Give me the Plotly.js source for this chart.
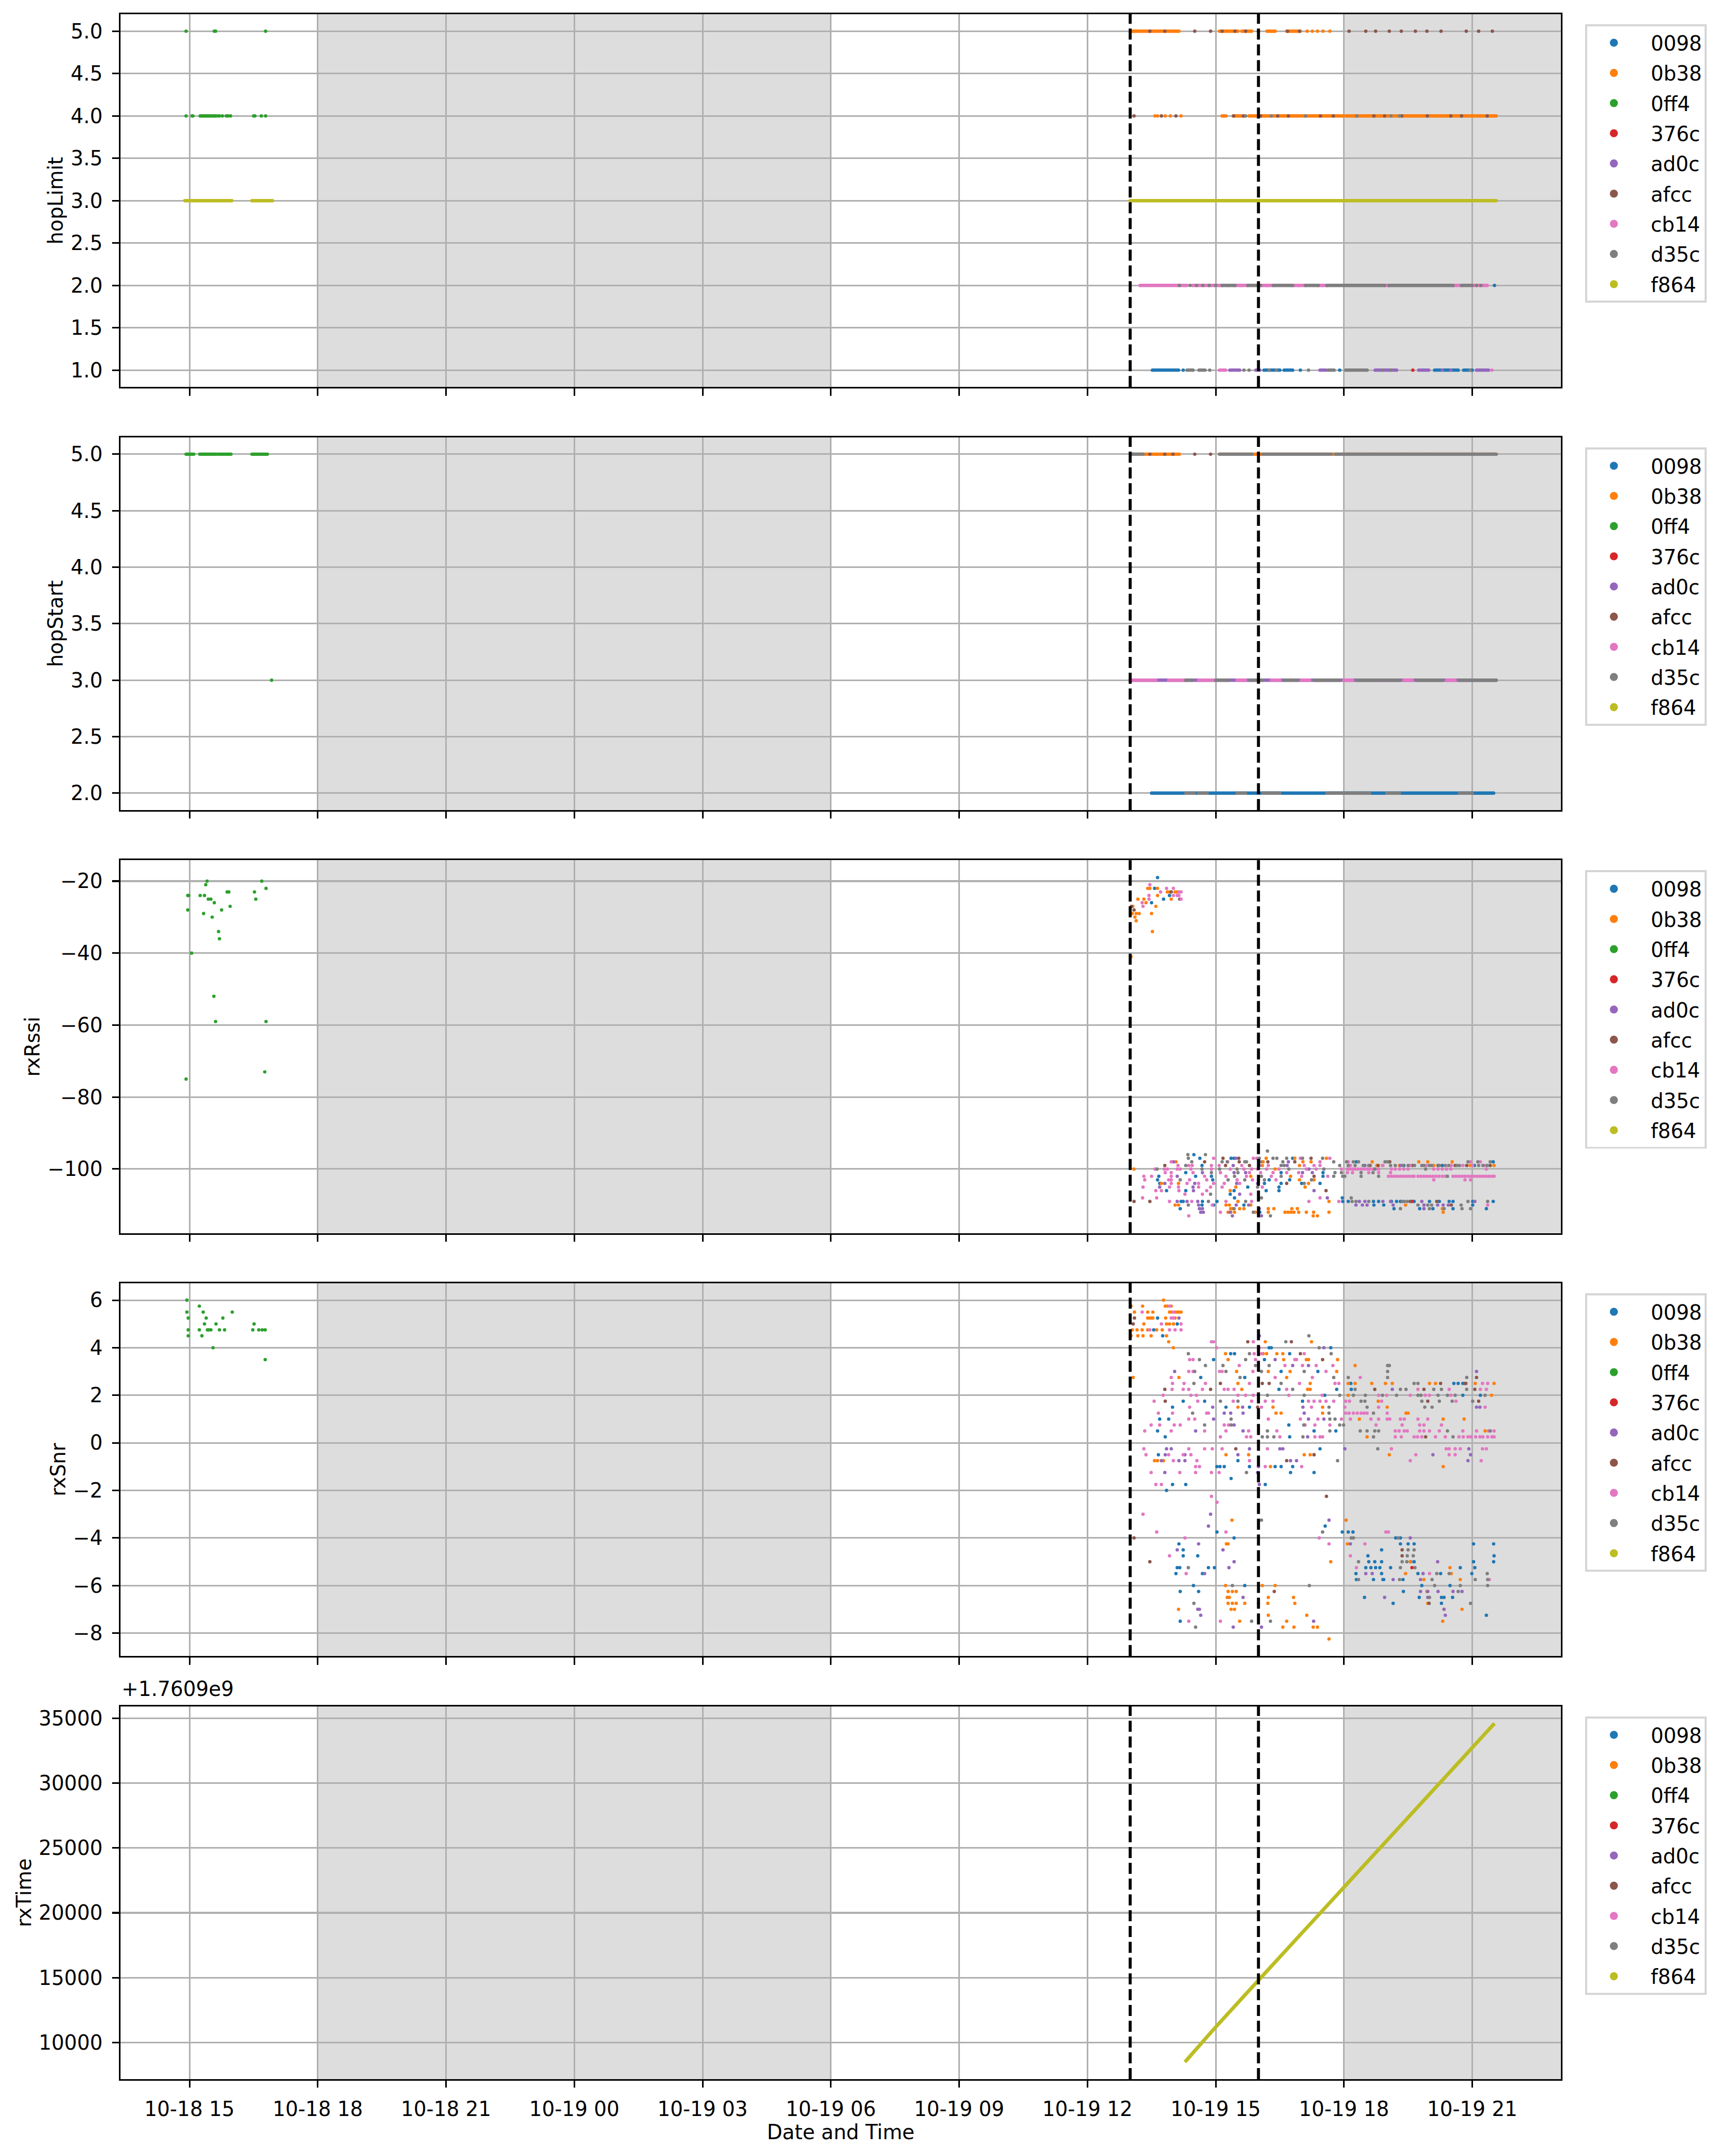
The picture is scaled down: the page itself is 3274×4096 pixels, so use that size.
<!DOCTYPE html>
<html><head><meta charset="utf-8">
<script src="https://cdn.plot.ly/plotly-3.0.1.min.js"></script>
<style>html,body{margin:0;padding:0;background:#fff}#chart{width:3274px;height:4096px}</style>
</head><body><div id="chart"></div>
<script>
// ---------------- DATA ----------------
const devices = ['0098','0b38','0ff4','376c','ad0c','afcc','cb14','d35c','f864'];
const panelFields = ['hopLimit','hopStart','rxRssi','rxSnr','rxTime'];
const xTitle = 'Date and Time';
const nightStarts = ['2025-10-18 18:00','2025-10-19 18:00'];
const nightEnds   = ['2025-10-19 06:00','2025-10-20 06:00'];
const markerTimes = ['2025-10-19 13:00','2025-10-19 16:00'];
const rxTimeOffset = 1.7609e9;
// times: hours since 2025-10-18 00:00 ; device index into `devices`
// runs: [tStart, tEnd, value, device] (dense stretches of points)
const hopLimitRuns = [
 14.89,15.99,3,8, 16.46,16.94,3,8, 15.25,15.40,4,2, 15.43,15.61,4,2,
 37.04,38.14,5,1, 39.09,39.52,5,1, 39.61,39.84,5,1, 40.20,40.39,5,1, 40.66,40.98,5,1,
 39.15,39.24,4,1, 39.41,39.68,4,1, 39.78,41.98,4,1, 42.04,45.56,4,1,
 37.00,45.56,3,8,
 37.23,38.33,2,6, 38.45,39.15,2,6, 39.45,39.75,2,6, 40.05,40.35,2,6, 40.80,41.10,2,6, 41.40,41.60,2,6, 42.95,43.05,2,6, 44.55,44.75,2,6, 45.00,45.35,2,6,
 39.15,39.45,2,7, 39.75,40.05,2,7, 40.35,40.80,2,7, 41.10,41.40,2,7, 41.60,42.95,2,7, 43.05,44.55,2,7, 44.75,45.00,2,7,
 37.52,38.13,1,0, 38.33,38.47,1,7, 38.61,38.75,1,7, 39.09,39.23,1,6, 39.33,39.56,1,4, 39.94,40.03,1,4, 40.13,40.50,1,0, 40.60,40.80,1,0,
 41.44,41.58,1,4, 41.63,41.77,1,7, 42.04,42.54,1,7, 42.73,43.23,1,4, 43.75,43.98,1,4, 44.12,44.67,1,0, 44.80,45.00,1,0, 45.10,45.38,1,4
];
// points: [t, value, device]
const hopLimitPts = [
 14.92,5,2, 15.58,5,2, 15.61,5,2, 16.78,5,2,
 14.92,4,2, 15.06,4,2, 15.08,4,2, 15.66,4,2, 15.70,4,2, 15.77,4,2, 15.86,4,2, 15.90,4,2, 15.96,4,2, 16.50,4,2, 16.53,4,2, 16.68,4,2, 16.78,4,2,
 37.46,5,5, 37.81,5,5, 38.51,5,5, 38.88,5,5, 39.15,5,5, 39.45,5,5, 39.70,5,5, 40.00,5,5, 40.68,5,5, 40.96,5,5,
 42.12,5,5, 42.51,5,5, 42.74,5,5, 43.06,5,5, 43.34,5,5, 43.67,5,5, 43.94,5,5, 44.27,5,5, 44.86,5,5, 45.15,5,5, 45.47,5,5,
 41.14,5,1, 41.26,5,1, 41.38,5,1, 41.51,5,1, 41.67,5,1,
 37.09,4,5, 37.73,4,5, 38.07,4,5, 39.42,4,5, 39.65,4,5, 40.05,4,5, 40.45,4,5, 40.70,4,5, 41.45,4,5, 41.75,4,5,
 42.70,4,5, 42.95,4,5, 43.35,4,5, 43.95,4,5, 44.50,4,5, 44.75,4,5, 45.35,4,5,
 37.58,4,1, 37.64,4,1, 37.82,4,1, 37.94,4,1, 38.19,4,1,
 39.70,4,7, 40.30,4,7, 41.10,4,7, 42.30,4,7, 43.10,4,7, 43.30,4,7,
 38.15,2,7, 38.40,2,7, 38.55,2,7, 38.70,2,7, 38.85,2,7, 39.00,2,7, 45.10,2,7, 45.20,2,7, 45.52,2,0,
 39.30,2,4, 39.60,2,4, 40.20,2,4, 40.95,2,4, 41.50,2,4,
 38.24,1,0, 40.98,1,0, 41.90,1,0, 38.86,1,7, 39.66,1,7, 39.78,1,7, 40.00,1,7, 40.25,1,7, 40.42,1,7, 41.17,1,7,
 42.90,1,7, 43.10,1,7, 44.95,1,7, 43.61,1,3, 45.46,1,6, 44.30,1,4, 44.50,1,4
];
const hopStartRuns = [
 14.92,15.10,5,2, 15.24,15.62,5,2, 15.66,15.97,5,2, 16.46,16.82,5,2,
 37.04,38.15,5,1, 39.09,45.56,5,1,
 37.02,37.30,5,7, 39.09,39.85,5,7, 40.10,41.70,5,7, 41.80,45.56,5,7,
 37.00,45.56,3,4,
 37.00,37.60,3,6, 37.90,38.30,3,6, 38.60,39.00,3,6, 39.50,39.70,3,6, 40.30,40.50,3,6, 41.00,41.20,3,6, 42.00,42.20,3,6, 43.40,43.60,3,6, 44.40,44.60,3,6,
 38.30,38.45,3,7, 39.00,39.30,3,7, 39.80,40.10,3,7, 40.60,40.90,3,7, 41.30,41.90,3,7, 42.30,43.30,3,7, 43.70,44.30,3,7, 44.70,45.56,3,7,
 37.50,45.50,2,0,
 38.30,38.50,2,7, 38.60,38.80,2,7, 39.50,39.70,2,7, 40.10,40.50,2,7, 41.60,42.60,2,7, 43.00,43.30,2,7, 44.70,45.00,2,7
];
const hopStartPts = [
 16.92,3,2,
 37.20,5,5, 37.46,5,5, 37.81,5,5, 38.00,5,5, 38.51,5,5, 38.88,5,5, 39.45,5,5, 40.00,5,5, 40.68,5,5,
 42.12,5,5, 42.74,5,5, 43.34,5,5, 43.94,5,5, 44.86,5,5, 45.47,5,5,
 42.90,3,6, 43.00,3,6, 44.85,3,6, 44.92,3,6
];
const rxRssiPts = [
 // 0ff4, 10-18 afternoon
 14.92,-75,2, 14.96,-28,2, 14.96,-24,2, 14.98,-24,2, 15.05,-40,2, 15.25,-24,2, 15.33,-29,2, 15.35,-24,2, 15.38,-21,2, 15.41,-20,2,
 15.44,-25,2, 15.50,-25,2, 15.53,-30,2, 15.57,-52,2, 15.58,-26,2, 15.61,-59,2, 15.68,-34,2, 15.70,-36,2, 15.75,-28,2,
 15.88,-23,2, 15.92,-23,2, 15.95,-27,2, 16.52,-23,2, 16.55,-25,2, 16.69,-20,2, 16.76,-73,2, 16.79,-22,2, 16.79,-59,2,
 // 10-19 strong cluster
 37.64,-19,0, 37.46,-21,6, 37.41,-22,1, 37.46,-22,1, 37.57,-22,0, 37.64,-22,1, 37.71,-23,6, 37.85,-22,6, 38.01,-22,6,
 37.87,-23,1, 37.92,-23,1, 38.10,-23,1, 38.14,-23,6, 38.19,-23,6, 37.96,-23,5, 38.05,-23,1, 37.92,-24,0, 37.78,-25,0,
 37.96,-25,1, 37.64,-24,1, 38.14,-24,6, 38.19,-25,6, 38.10,-24,6, 38.01,-24,6, 38.16,-25,5, 37.18,-25,1, 37.32,-25,1,
 37.44,-24,6, 37.44,-25,6, 37.28,-26,6, 37.30,-27,6, 37.50,-26,0, 37.37,-26,1, 37.60,-27,1, 37.50,-29,1, 37.21,-29,1,
 37.14,-29,1, 37.05,-29,1, 37.06,-27,1, 37.14,-31,1, 37.52,-34,1, 37.02,-41,1, 37.09,-28,5, 37.03,-27,5, 37.11,-30,1,
 // weak cluster
 38.35,-96,7, 38.49,-96,0, 38.76,-96,7, 40.21,-95,7,
 38.36,-97,7, 38.63,-97,0, 38.95,-97,6, 39.17,-97,5, 39.36,-97,0, 39.43,-97,0, 39.47,-97,4, 39.54,-97,5, 39.88,-97,6, 39.96,-97,6,
 40.02,-97,7, 40.18,-97,1, 40.34,-97,7, 40.43,-97,7, 40.66,-97,7, 40.80,-97,0, 40.85,-97,1, 40.98,-97,6, 41.03,-97,7, 41.23,-97,5,
 41.50,-97,7, 41.59,-97,1, 41.67,-97,6,
 37.96,-98,6, 38.01,-98,4, 38.07,-98,1, 38.44,-98,7, 38.74,-98,5, 39.15,-98,7, 39.27,-98,7, 39.28,-98,6, 39.55,-98,5, 39.68,-98,7,
 39.72,-98,7, 40.05,-98,7, 40.11,-98,1, 40.22,-98,5, 40.57,-98,7, 40.70,-98,4, 40.85,-98,5, 41.04,-98,1, 41.23,-98,1, 41.44,-98,6,
 41.76,-98,7, 42.06,-98,7, 42.10,-98,6, 42.22,-98,7, 42.29,-98,0, 42.34,-98,7, 42.66,-98,1, 42.96,-98,7, 43.02,-98,7, 43.07,-98,5,
 43.75,-98,1, 43.96,-98,1, 44.53,-98,1, 44.90,-98,7, 44.96,-98,6, 45.13,-98,7, 45.19,-98,6, 45.42,-98,7, 45.49,-98,0,
 37.81,-99,5, 38.12,-99,6, 38.30,-99,7, 38.37,-99,6, 38.45,-99,6, 38.68,-99,0, 38.90,-99,6, 39.08,-99,6, 39.23,-99,5, 39.41,-99,4,
 39.61,-99,6, 39.79,-99,5, 40.02,-99,4, 40.09,-99,1, 40.23,-99,6, 40.53,-99,7, 40.60,-99,7, 40.67,-99,4, 40.96,-99,1, 41.07,-99,6,
 41.30,-99,6, 41.44,-99,6, 41.90,-99,7, 42.10,-99,7, 42.15,-99,6, 42.26,-99,7, 42.49,-99,4, 42.61,-99,5, 42.77,-99,1, 42.91,-99,6,
 43.09,-99,7, 43.32,-99,4, 43.38,-99,7, 43.55,-99,6, 43.82,-99,7, 43.87,-99,7, 43.93,-99,6, 44.05,-99,7, 44.23,-99,7, 44.37,-99,7,
 44.51,-99,6, 44.64,-99,7, 44.78,-99,6, 44.87,-99,5, 45.01,-99,6, 45.15,-99,7, 45.29,-99,6, 45.51,-99,1, 45.42,-99,5,
 42.45,-99,7, 42.58,-99,7, 43.20,-99,7, 43.50,-99,7, 43.65,-99,7, 44.00,-99,7, 44.45,-99,7, 44.70,-99,7, 45.25,-99,7, 45.35,-99,7,
 42.80,-99,5, 43.60,-99,5, 44.20,-99,5, 44.60,-99,5, 42.90,-99,1, 43.30,-99,1, 44.10,-99,1, 44.95,-99,1, 43.40,-99,0, 44.30,-99,0, 45.05,-99,0,
 37.09,-100,1, 37.58,-100,6, 37.63,-100,7, 37.80,-100,6, 37.87,-100,6, 38.10,-100,6, 38.17,-100,6, 38.42,-100,6, 38.68,-100,7, 38.90,-100,6,
 39.09,-100,7, 39.34,-100,6, 39.50,-100,7, 39.66,-100,6, 39.84,-100,6, 39.98,-100,6, 40.19,-100,6, 40.39,-100,1, 40.48,-100,6, 40.71,-100,7,
 41.12,-100,6, 41.18,-100,4, 41.35,-100,6, 41.53,-100,7, 41.94,-100,6,
 42.08,-100,6, 42.13,-100,6, 42.20,-100,6, 42.26,-100,6, 42.33,-100,6, 42.40,-100,6, 42.47,-100,6, 42.54,-100,6, 42.60,-100,6, 42.67,-100,6,
 42.74,-100,6, 42.81,-100,6, 42.72,-100,7, 43.11,-100,6, 43.20,-100,6, 43.30,-100,6, 43.40,-100,6, 43.50,-100,6, 43.91,-100,7,
 44.10,-100,6, 44.20,-100,6, 44.30,-100,6, 44.40,-100,6, 44.50,-100,6, 45.33,-100,6,
 37.82,-101,6, 37.96,-101,6, 38.30,-101,0, 38.47,-101,6, 38.69,-101,4, 38.90,-101,7, 39.11,-101,6, 39.43,-101,4, 39.52,-101,7, 39.70,-101,4,
 39.79,-101,6, 40.05,-101,6, 40.34,-101,6, 40.53,-101,0, 40.66,-101,6, 40.94,-101,6, 41.03,-101,4, 41.26,-101,4, 41.51,-101,0, 41.79,-101,7,
 41.94,-101,7, 42.08,-101,6, 42.20,-101,6, 42.40,-101,7, 42.58,-101,6, 42.68,-101,7, 42.81,-101,6, 43.09,-101,6,
 37.32,-102,6, 37.50,-102,6, 37.67,-102,0, 37.96,-102,6, 38.10,-102,4, 38.53,-102,0, 38.74,-102,6, 38.90,-102,0, 39.24,-102,6, 39.44,-102,7,
 39.72,-102,6, 39.82,-102,1, 40.07,-102,7, 40.30,-102,6, 40.53,-102,7, 40.75,-102,1, 41.01,-102,6, 41.30,-102,5, 41.51,-102,0, 41.62,-102,6,
 41.76,-102,7, 41.97,-102,7, 42.02,-102,7, 42.40,-102,7, 42.81,-102,7,
 43.04,-102,6, 43.11,-102,6, 43.18,-102,6, 43.25,-102,6, 43.32,-102,6, 43.39,-102,6, 43.46,-102,6, 43.53,-102,6, 43.60,-102,6, 43.64,-102,6,
 43.73,-102,6, 43.80,-102,6, 43.87,-102,6, 43.94,-102,6, 44.01,-102,6, 44.08,-102,6, 44.15,-102,6, 44.22,-102,6, 44.30,-102,6, 44.37,-102,6,
 44.42,-102,7, 44.55,-102,6, 44.62,-102,6, 44.69,-102,6, 44.76,-102,6, 44.83,-102,6, 44.90,-102,6, 44.97,-102,6, 45.04,-102,6, 45.11,-102,6,
 45.18,-102,6, 45.25,-102,6, 45.32,-102,6, 45.39,-102,6, 45.46,-102,6, 45.51,-102,6,
 37.34,-103,6, 37.64,-103,0, 37.90,-103,6, 37.96,-103,6, 38.17,-103,7, 38.39,-103,6, 38.79,-103,6, 38.93,-103,0, 39.29,-103,7, 39.50,-103,6,
 39.68,-103,7, 39.86,-103,6, 40.00,-103,6, 40.14,-103,7, 40.25,-103,0, 40.41,-103,6, 40.73,-103,0, 40.96,-103,1, 41.30,-103,1, 41.24,-103,7,
 44.10,-103,6, 44.83,-103,6, 44.96,-103,6,
 37.69,-104,0, 37.73,-104,1, 37.81,-104,4, 37.96,-104,6, 38.13,-104,1, 38.33,-104,6, 38.51,-104,4, 38.60,-104,6, 38.95,-104,6, 39.20,-104,6,
 39.49,-104,4, 39.56,-104,6, 39.98,-104,4, 40.14,-104,0, 40.53,-104,0, 40.66,-104,5, 41.01,-104,0, 41.07,-104,7, 41.17,-104,1, 41.44,-104,0,
 37.30,-105,6, 37.69,-105,4, 37.92,-105,6, 38.13,-105,6, 38.47,-105,4, 38.60,-105,6, 38.88,-105,6, 39.15,-105,6, 39.47,-105,1, 39.75,-105,0,
 40.09,-105,6, 39.98,-105,7, 40.48,-105,0, 41.09,-105,1,
 37.60,-106,6, 37.85,-106,0, 37.73,-106,6, 38.14,-106,6, 38.30,-106,0, 38.48,-106,4, 38.79,-106,6, 39.34,-106,1, 39.43,-106,0, 40.18,-106,0,
 40.48,-106,0, 41.58,-106,5, 41.30,-106,4,
 38.28,-107,6, 38.69,-107,6, 38.88,-107,7, 39.34,-107,0, 39.56,-107,4, 39.82,-107,6,
 37.29,-108,6, 37.62,-108,6, 39.44,-108,0, 40.07,-108,7, 41.61,-108,4, 41.96,-108,0, 42.17,-108,7, 41.44,-108,6,
 37.09,-109,5, 37.46,-109,5, 37.92,-109,6, 38.10,-109,4, 38.19,-109,0, 38.24,-109,0, 38.33,-109,4, 38.44,-109,6, 38.58,-109,4, 38.69,-109,0,
 38.83,-109,7, 39.03,-109,0, 39.24,-109,6, 39.52,-109,1, 39.70,-109,7, 39.84,-109,6, 41.18,-109,6, 41.65,-109,1, 41.88,-109,6, 41.97,-109,0,
 42.10,-109,0, 42.19,-109,7, 42.28,-109,7, 42.36,-109,4, 42.49,-109,4, 42.58,-109,7, 42.69,-109,0, 42.81,-109,0, 42.91,-109,4, 43.11,-109,0,
 43.09,-109,4, 43.23,-109,0, 43.32,-109,0, 43.36,-109,7, 43.41,-109,7, 43.48,-109,7, 43.59,-109,3, 43.55,-109,5, 43.64,-109,0, 43.82,-109,4,
 44.00,-109,0, 44.17,-109,5, 44.23,-109,0, 44.46,-109,0, 44.55,-109,0, 44.90,-109,7, 45.01,-109,0, 45.06,-109,4, 45.36,-109,7, 45.49,-109,0,
 38.05,-110,1, 38.13,-110,1, 38.36,-110,7, 38.60,-110,4, 38.68,-110,0, 38.92,-110,6, 38.95,-110,0, 39.24,-110,1, 39.32,-110,1, 39.48,-110,4,
 39.66,-110,0, 39.77,-110,4, 39.82,-110,1, 42.28,-110,4, 42.43,-110,4, 42.54,-110,4, 42.70,-110,0, 42.93,-110,0, 43.15,-110,4, 43.44,-110,1,
 43.73,-110,7, 43.87,-110,4, 43.96,-110,7, 44.05,-110,7, 44.19,-110,4, 44.32,-110,4, 44.44,-110,4, 44.51,-110,5, 44.74,-110,7, 45.36,-110,6, 45.01,-110,0,
 38.17,-111,0, 38.62,-111,4, 38.69,-111,4, 39.35,-111,1, 39.39,-111,1, 39.56,-111,1, 39.66,-111,1, 39.43,-111,7, 40.02,-111,4, 40.23,-111,1,
 40.36,-111,1, 40.78,-111,1, 40.91,-111,1, 43.17,-111,0, 43.32,-111,7, 43.77,-111,0, 43.87,-111,4, 44.00,-111,7, 44.08,-111,0, 44.34,-111,7,
 44.30,-111,1, 44.55,-111,0, 44.76,-111,7, 44.96,-111,7, 45.33,-111,0,
 38.65,-112,4, 38.71,-112,4, 39.11,-112,6, 39.29,-112,1, 39.34,-112,4, 39.44,-112,1, 39.93,-112,1, 40.03,-112,0, 40.23,-112,1, 40.62,-112,1,
 40.69,-112,1, 40.76,-112,1, 40.83,-112,1, 40.94,-112,1, 41.12,-112,1, 41.29,-112,1, 41.65,-112,1, 39.88,-112,7, 39.35,-112,1, 44.32,-112,1,
 38.37,-113,6, 39.39,-113,4, 40.07,-113,4, 40.28,-113,7, 41.28,-113,1, 41.38,-113,1
];
const rxSnrPts = [
 // 0ff4, 10-18 afternoon
 14.94,6.0,2, 14.94,5.5,2, 14.97,5.25,2, 14.97,4.75,2, 14.97,4.5,2, 15.23,5.75,2, 15.32,5.5,2, 15.35,5.0,2, 15.39,5.25,2,
 15.45,4.75,2, 15.23,4.75,2, 15.29,4.5,2, 15.42,4.75,2, 15.50,4.75,2, 15.55,4.0,2, 15.62,5.0,2, 15.70,4.75,2, 15.78,5.25,2,
 16.00,5.5,2, 15.82,4.75,2, 16.48,4.75,2, 16.51,5.0,2, 16.62,4.75,2, 16.70,4.75,2, 16.77,4.75,2, 16.77,3.5,2,
 // 10-19 strong period
 37.78,6.0,1, 37.02,5.75,1, 37.29,5.75,1, 37.82,5.75,1, 37.87,5.75,1, 37.96,5.75,1, 37.92,5.75,6,
 37.10,5.5,1, 37.28,5.5,6, 37.41,5.5,1, 37.53,5.5,1, 37.92,5.5,1, 37.96,5.5,1, 38.05,5.5,1, 38.10,5.5,1, 38.14,5.5,1, 38.19,5.5,1, 38.01,5.5,6,
 37.10,5.25,5, 37.41,5.25,1, 37.46,5.25,1, 37.50,5.25,1, 37.53,5.25,1, 37.64,5.25,0, 37.83,5.25,1, 37.96,5.25,6, 38.01,5.25,6, 38.05,5.25,1, 38.14,5.25,4,
 37.07,5.0,5, 37.32,5.0,1, 37.73,5.0,6, 37.85,5.0,1, 37.92,5.0,1, 38.01,5.0,1, 38.10,5.0,0, 38.19,5.0,6,
 37.05,4.75,1, 37.16,4.75,1, 37.28,4.75,1, 37.41,4.75,1, 37.46,4.75,6, 37.55,4.75,0, 37.62,4.75,1, 37.75,4.75,1, 37.92,4.75,6, 38.05,4.75,6, 38.19,4.75,6,
 37.02,4.5,1, 37.18,4.5,1, 37.30,4.5,1, 37.49,4.5,1, 37.76,4.5,0, 37.85,4.5,1, 37.90,4.25,1, 38.01,4.0,1, 37.07,2.75,1,
 // mixed cloud
 40.02,4.5,4, 41.18,4.5,7,
 38.90,4.25,6, 38.95,4.25,6, 39.75,4.25,5, 39.88,4.25,6, 40.16,4.25,1, 40.64,4.25,7, 40.77,4.25,5, 41.24,4.25,1,
 40.25,4.0,0, 40.30,4.0,0, 40.02,4.0,6, 41.42,4.0,7, 41.69,4.0,0, 41.53,4.0,4, 39.02,4.0,6,
 38.36,3.75,7, 39.23,3.75,1, 39.35,3.75,0, 39.44,3.75,0, 39.79,3.75,7, 39.90,3.75,6, 40.07,3.75,6, 40.11,3.75,1, 40.19,3.75,1, 40.43,3.75,1,
 40.57,3.75,1, 40.73,3.75,0, 40.98,3.75,5, 41.07,3.75,6, 41.70,3.75,7,
 38.39,3.5,6, 38.47,3.5,6, 38.62,3.5,7, 38.95,3.5,0, 39.29,3.5,1, 39.70,3.5,7, 39.93,3.5,6, 40.14,3.5,0, 40.39,3.5,4, 40.59,3.5,1,
 40.85,3.5,6, 40.89,3.5,6, 41.12,3.5,1, 41.17,3.5,1, 41.50,3.5,5, 41.85,3.5,1,
 38.76,3.25,7, 39.17,3.25,7, 39.55,3.25,6, 39.93,3.25,7, 40.25,3.25,7, 40.62,3.25,6, 40.80,3.25,4, 41.03,3.25,6, 41.17,3.25,4, 41.35,3.25,6,
 41.74,3.25,6, 42.26,3.25,1, 43.02,3.25,7, 43.06,3.25,7,
 38.04,3.0,4, 38.37,3.0,6, 38.47,3.0,6, 38.51,3.0,7, 39.09,3.0,6, 39.15,3.0,6, 39.24,3.0,7, 39.49,3.0,1, 39.87,3.0,6, 40.07,3.0,7,
 40.23,3.0,1, 40.53,3.0,0, 40.74,3.0,1, 41.07,3.0,7, 41.39,3.0,0, 41.58,3.0,6, 41.83,3.0,1, 43.02,3.0,7, 45.10,3.0,4,
 37.96,2.75,6, 38.14,2.75,1, 38.65,2.75,0, 39.57,2.75,7, 39.68,2.75,0, 40.39,2.75,6, 40.66,2.75,1, 41.26,2.75,6, 41.76,2.75,7, 42.10,2.75,7,
 42.38,2.75,6, 43.02,2.75,7, 44.87,2.75,7, 45.10,2.75,5,
 37.99,2.5,6, 38.26,2.5,6, 38.49,2.5,7, 38.76,2.5,6, 39.11,2.5,5, 39.52,2.5,1, 39.79,2.5,6, 40.09,2.5,5, 40.25,2.5,5, 40.53,2.5,7,
 40.96,2.5,6, 41.21,2.5,1, 41.79,2.5,6, 41.88,2.5,6, 42.10,2.5,1, 42.16,2.5,0, 42.26,2.5,1, 42.65,2.5,1, 42.97,2.5,1, 43.13,2.5,1,
 43.64,2.5,7, 43.73,2.5,7, 44.00,2.5,1, 44.14,2.5,1, 44.26,2.5,5, 44.57,2.5,0, 44.67,2.5,0, 44.78,2.5,0, 44.83,2.5,5, 44.85,2.5,5,
 45.07,2.5,1, 45.24,2.5,6, 45.36,2.5,6, 45.51,2.5,1,
 37.81,2.25,5, 37.98,2.25,6, 38.24,2.25,6, 38.37,2.25,6, 38.69,2.25,6, 38.88,2.25,5, 39.20,2.25,6, 39.29,2.25,6, 39.43,2.25,6, 39.61,2.25,1,
 40.48,2.25,0, 40.66,2.25,6, 40.80,2.25,7, 41.15,2.25,1, 41.21,2.25,1, 41.83,2.25,0, 42.17,2.25,0, 42.26,2.25,7, 42.72,2.25,5, 43.13,2.25,4,
 43.32,2.25,7, 43.45,2.25,7, 43.73,2.25,6, 43.87,2.25,5, 44.10,2.25,7, 44.28,2.25,7, 44.46,2.25,6, 44.87,2.25,7, 45.06,2.25,5, 45.19,2.25,6, 45.33,2.25,6,
 37.77,2.0,6, 38.42,2.0,6, 38.55,2.0,6, 39.52,2.0,6, 39.70,2.0,6, 39.88,2.0,6, 40.00,2.0,0, 40.21,2.0,7, 40.71,2.0,6, 41.07,2.0,7,
 41.49,2.0,6, 41.55,2.0,0, 41.90,2.0,7, 42.10,2.0,1, 42.22,2.0,7, 42.81,2.0,6, 43.23,2.0,7, 43.55,2.0,6, 43.73,2.0,7, 44.00,2.0,6,
 44.42,2.0,7, 44.78,2.0,0, 45.19,2.0,0, 45.45,2.0,1, 42.50,2.0,7, 42.90,2.0,7, 43.80,2.0,7, 44.20,2.0,7, 44.60,2.0,7, 45.30,2.0,7,
 43.00,2.0,6, 43.90,2.0,6, 44.50,2.0,6,
 37.56,1.75,6, 37.82,1.75,5, 38.24,1.75,0, 38.58,1.75,6, 38.74,1.75,0, 39.11,1.75,7, 39.41,1.75,6, 39.52,1.75,7, 39.84,1.75,6, 40.16,1.75,6,
 40.34,1.75,6, 41.03,1.75,0, 41.17,1.75,6, 41.30,1.75,6, 41.44,1.75,6, 41.58,1.75,6, 41.76,1.75,6, 42.04,1.75,6, 42.13,1.75,6, 42.40,1.75,7,
 42.49,1.75,7, 42.80,1.75,1, 42.88,1.75,6, 43.82,1.75,7, 43.96,1.75,5, 44.23,1.75,7, 44.53,1.75,7, 44.62,1.75,6, 45.01,1.75,7, 45.15,1.75,5,
 37.99,1.5,0, 38.39,1.5,6, 38.93,1.5,4, 39.24,1.5,0, 39.52,1.5,1, 39.63,1.5,4, 39.79,1.5,0, 39.98,1.5,5, 40.07,1.5,6, 40.34,1.5,1,
 41.04,1.5,4, 41.24,1.5,6, 41.50,1.5,1, 41.65,1.5,7, 42.02,1.5,6, 42.54,1.5,7, 42.81,1.5,6, 43.01,1.5,1, 43.89,1.5,7, 44.06,1.5,7,
 45.10,1.5,4, 45.18,1.5,4, 45.30,1.5,6,
 37.66,1.25,6, 37.99,1.25,6, 38.46,1.25,7, 38.79,1.25,6, 38.83,1.25,6, 39.20,1.25,4, 39.35,1.25,4, 39.64,1.25,4, 40.41,1.25,1, 40.53,1.25,1,
 41.07,1.25,4, 41.50,1.25,1, 41.65,1.25,7, 42.04,1.25,6, 42.12,1.25,6, 42.22,1.25,6, 42.31,1.25,6, 42.40,1.25,6, 42.47,1.25,6,
 42.54,1.25,6, 42.69,1.25,7, 43.01,1.25,6, 43.45,1.25,1, 43.50,1.25,1,
 37.69,1.0,0, 37.90,1.0,0, 38.37,1.0,6, 38.51,1.0,6, 38.95,1.0,4, 39.36,1.0,7, 40.23,1.0,6, 40.98,1.0,6, 41.17,1.0,4, 41.39,1.0,6,
 41.53,1.0,4, 41.67,1.0,7, 41.79,1.0,7, 41.94,1.0,6, 42.15,1.0,6, 42.36,1.0,1, 42.63,1.0,6, 42.81,1.0,6, 43.01,1.0,6, 43.07,1.0,6,
 43.32,1.0,6, 43.41,1.0,6, 43.73,1.0,6, 43.96,1.0,6, 44.32,1.0,1, 44.81,1.0,1,
 37.49,0.75,6, 37.69,0.75,6, 38.03,0.75,6, 38.17,0.75,6, 38.74,0.75,7, 39.20,0.75,6, 39.30,0.75,6, 39.36,0.75,7, 39.43,0.75,4, 40.71,0.75,0,
 41.06,0.75,7, 41.09,0.75,6, 41.32,0.75,6, 41.67,0.75,6, 41.90,0.75,7, 41.99,0.75,7, 42.75,0.75,6, 43.36,0.75,6, 43.77,0.75,6, 43.87,0.75,6, 44.28,0.75,6,
 37.34,0.5,6, 37.64,0.5,0, 37.96,0.5,6, 38.53,0.5,4, 38.74,0.5,6, 39.24,0.5,6, 39.64,0.5,4, 39.77,0.5,6, 40.21,0.5,7, 40.43,0.5,6,
 41.30,0.5,0, 41.67,0.5,7, 41.81,0.5,0, 42.38,0.5,7, 42.54,0.5,7, 42.72,0.5,7, 42.81,0.5,7, 43.20,0.5,6, 43.29,0.5,6,
 43.41,0.5,6, 43.48,0.5,6, 43.77,0.5,6, 43.87,0.5,6, 44.00,0.5,6, 44.23,0.5,6, 44.42,0.5,7, 44.78,0.5,6, 45.10,0.5,6,
 45.30,0.5,1, 45.38,0.5,6, 45.51,0.5,6, 45.42,0.5,7,
 37.82,0.25,0, 39.11,0.25,6, 39.72,0.25,6, 39.82,0.25,6, 40.09,0.25,7, 40.21,0.25,7, 40.36,0.25,7, 40.50,0.25,6, 40.73,0.25,0, 41.04,0.25,7,
 41.15,0.25,4, 41.32,0.25,6, 41.44,0.25,6, 41.50,0.25,6, 42.54,0.25,1, 42.69,0.25,7, 43.20,0.25,6, 43.34,0.25,6, 43.64,0.25,6, 43.72,0.25,6,
 43.82,0.25,6, 43.91,0.25,5, 44.14,0.25,6, 44.37,0.25,6, 44.55,0.25,7, 44.69,0.25,6, 44.79,0.25,6, 44.90,0.25,6,
 44.97,0.25,6, 45.08,0.25,6, 45.18,0.25,6, 45.25,0.25,6, 45.36,0.25,6, 45.46,0.25,6, 45.51,0.25,6,
 37.32,-0.25,6, 37.85,-0.25,4, 37.96,-0.25,4, 38.37,-0.25,6, 38.74,-0.25,6, 38.92,-0.25,6, 39.15,-0.25,6, 39.47,-0.25,5, 39.79,-0.25,4, 40.21,-0.25,6,
 40.50,-0.25,4, 40.57,-0.25,4, 41.44,-0.25,0, 42.02,-0.25,4, 42.79,-0.25,7, 43.11,-0.25,6, 44.39,-0.25,6, 44.46,-0.25,6, 44.60,-0.25,6, 44.72,-0.25,6,
 44.92,-0.25,4, 45.24,-0.25,6, 45.33,-0.25,6,
 37.37,-0.5,6, 37.66,-0.5,0, 37.90,-0.5,6, 37.82,-0.5,4, 38.24,-0.5,6, 38.42,-0.5,6, 38.28,-0.5,4, 39.24,-0.5,1, 39.52,-0.5,4, 39.77,-0.5,1,
 41.07,-0.5,1, 41.21,-0.5,1, 41.30,-0.5,1, 41.30,-0.5,5, 43.06,-0.5,1, 43.68,-0.5,6, 44.08,-0.5,4, 44.46,-0.5,6, 44.60,-0.5,6, 44.96,-0.5,4,
 37.57,-0.75,1, 37.64,-0.75,1, 37.78,-0.75,1, 37.73,-0.75,4, 38.01,-0.75,6, 38.14,-0.75,4, 38.28,-0.75,4, 38.56,-0.75,6, 39.52,-0.75,0, 39.79,-0.75,6,
 40.66,-0.75,5, 40.75,-0.75,4, 40.89,-0.75,4, 41.85,-0.75,7, 43.55,-0.75,6, 44.90,-0.75,4, 45.21,-0.75,6,
 38.53,-1.0,6, 38.62,-1.0,6, 39.03,-1.0,0, 39.10,-1.0,0, 39.20,-1.0,0, 39.79,-1.0,0, 40.00,-1.0,4, 40.16,-1.0,6, 40.28,-1.0,1, 40.39,-1.0,0,
 40.53,-1.0,0, 40.80,-1.0,0, 41.01,-1.0,6, 44.32,-1.0,1,
 37.49,-1.25,6, 37.81,-1.25,4, 38.16,-1.25,6, 38.53,-1.25,6, 38.90,-1.25,6, 39.08,-1.25,6, 39.72,-1.25,7, 39.98,-1.25,4, 40.75,-1.25,0, 41.30,-1.25,0,
 39.36,-1.5,0, 37.60,-1.75,6, 37.73,-1.75,6, 37.99,-1.75,0, 38.30,-1.75,0, 40.02,-1.75,4, 40.16,-1.75,0, 37.85,-2.0,0,
 41.59,-2.25,5, 38.90,-2.25,6, 39.03,-2.5,6, 37.30,-3.0,6, 38.88,-3.0,4,
 39.38,-3.25,1, 40.07,-3.25,7, 41.65,-3.25,4, 42.05,-3.25,1, 38.83,-3.5,4, 41.56,-3.5,0,
 37.62,-3.75,6, 39.03,-3.75,0, 39.24,-3.75,6, 41.50,-3.75,7, 41.96,-3.75,0, 42.10,-3.75,0, 42.21,-3.75,0, 42.98,-3.75,6, 43.04,-3.75,6,
 37.09,-4.0,5, 38.28,-4.0,6, 39.43,-4.0,0, 41.42,-4.0,6, 42.17,-4.0,7, 42.22,-4.0,7, 43.21,-4.0,0, 43.32,-4.0,0, 43.27,-4.0,7, 43.55,-4.0,4,
 38.14,-4.25,0, 38.60,-4.25,4, 39.25,-4.25,1, 39.29,-4.25,1, 41.65,-4.25,6, 42.08,-4.25,1, 42.15,-4.25,4, 42.49,-4.25,6, 43.32,-4.25,0, 43.50,-4.25,0,
 43.64,-4.25,0, 45.03,-4.25,0, 45.50,-4.25,0,
 38.10,-4.5,4, 38.24,-4.5,0, 39.17,-4.5,4, 42.88,-4.5,0, 43.36,-4.5,5, 43.50,-4.5,7, 43.64,-4.5,7,
 37.92,-4.75,6, 38.24,-4.75,0, 38.58,-4.75,0, 42.15,-4.75,6, 42.56,-4.75,0, 43.36,-4.75,5, 43.48,-4.75,7, 43.62,-4.75,7, 45.51,-4.75,0,
 37.46,-5.0,5, 39.43,-5.0,4, 41.69,-5.0,1, 42.34,-5.0,7, 42.58,-5.0,0, 42.72,-5.0,0, 42.88,-5.0,0, 43.36,-5.0,7, 43.47,-5.0,7, 43.56,-5.0,0,
 43.64,-5.0,0, 43.55,-5.0,1, 44.19,-5.0,4, 45.03,-5.0,0, 45.50,-5.0,0,
 38.10,-5.25,0, 38.16,-5.25,0, 38.36,-5.25,7, 38.83,-5.25,0, 38.97,-5.25,0, 39.31,-5.25,4, 42.29,-5.25,6, 42.51,-5.25,0, 42.63,-5.25,0, 42.74,-5.25,0,
 42.84,-5.25,0, 43.09,-5.25,0, 43.32,-5.25,7, 43.59,-5.25,3, 43.66,-5.25,7, 44.48,-5.25,1, 44.72,-5.25,0, 45.06,-5.25,0,
 38.07,-5.5,0, 38.31,-5.5,6, 38.69,-5.5,0, 38.74,-5.5,4, 42.28,-5.5,0, 42.51,-5.5,4, 42.66,-5.5,4, 42.88,-5.5,0, 43.44,-5.5,1, 43.73,-5.5,0,
 43.85,-5.5,4, 44.00,-5.5,6, 44.17,-5.5,7, 44.26,-5.5,0, 44.46,-5.5,7, 44.51,-5.5,1, 44.99,-5.5,0, 45.35,-5.5,7,
 42.29,-5.75,0, 42.34,-5.75,7, 42.69,-5.75,0, 42.91,-5.75,0, 42.93,-5.75,0, 43.15,-5.75,4, 43.30,-5.75,7, 43.38,-5.75,0, 43.79,-5.75,4, 43.87,-5.75,1,
 44.06,-5.75,7, 44.72,-5.75,1, 45.07,-5.75,7, 45.36,-5.75,7, 45.40,-5.75,6,
 39.23,-6.0,1, 39.39,-6.0,7, 39.68,-6.0,0, 40.39,-6.0,1, 41.19,-6.0,7, 38.48,-6.0,0, 40.09,-6.0,1, 43.82,-6.0,0, 44.12,-6.0,7, 44.48,-6.0,0,
 44.72,-6.0,7, 45.36,-6.0,7,
 38.17,-6.25,0, 38.60,-6.25,0, 39.29,-6.25,1, 39.39,-6.25,1, 39.48,-6.25,1, 40.37,-6.25,5, 43.39,-6.25,0, 43.79,-6.25,4, 43.96,-6.25,4, 43.94,-6.25,1,
 44.20,-6.25,4, 44.55,-6.25,4, 44.67,-6.25,7, 44.76,-6.25,4,
 39.27,-6.5,1, 39.32,-6.5,1, 39.64,-6.5,4, 40.23,-6.5,1, 40.82,-6.5,1, 42.48,-6.5,0, 42.95,-6.5,4, 43.76,-6.5,0, 43.96,-6.5,4, 44.00,-6.5,7,
 44.28,-6.5,0, 44.34,-6.5,0, 44.54,-6.5,0,
 38.49,-6.75,7, 39.29,-6.75,1, 39.39,-6.75,1, 39.48,-6.75,1, 39.68,-6.75,1, 40.00,-6.75,6, 40.22,-6.75,1, 40.85,-6.75,1, 43.15,-6.75,0, 43.96,-6.75,1,
 43.99,-6.75,5, 44.28,-6.75,0, 44.96,-6.75,7,
 38.13,-7.0,1, 38.58,-7.0,4, 38.62,-7.0,4, 39.36,-7.0,1, 39.44,-7.0,1, 44.34,-7.0,1, 44.34,-7.0,4, 44.76,-7.0,1,
 38.65,-7.25,4, 40.23,-7.25,1, 41.13,-7.25,1, 44.37,-7.25,4, 45.33,-7.25,0,
 38.17,-7.5,0, 38.37,-7.5,6, 39.56,-7.5,1, 39.84,-7.5,7, 41.29,-7.5,4, 39.11,-7.5,6, 40.66,-7.5,1, 40.28,-7.5,7, 44.31,-7.5,1,
 38.53,-7.75,7, 39.41,-7.75,4, 40.07,-7.75,4, 40.57,-7.75,1, 40.83,-7.75,1, 41.28,-7.75,1, 41.38,-7.75,1, 41.65,-8.25,1
];
// rxTime (seconds, shown relative to rxTimeOffset)
const rxTimeHours = [38.28, 39.0, 40.0, 41.0, 42.0, 43.0, 44.0, 45.0, 45.52];
const rxTimeValues = [8500, 11200, 14800, 18400, 22000, 25500, 29100, 32700, 34600];

// ---------------- STYLE / LAYOUT ----------------
const colors = ['#1f77b4','#ff7f0e','#2ca02c','#d62728','#9467bd','#8c564b','#e377c2','#7f7f7f','#bcbd22'];
const W = 3274, H = 4096, S = W / 3573;
const FONT = 'DejaVu Sans, Liberation Sans, sans-serif';
const FS = 10 * 300 / 72 * S;           // 10pt at 300 dpi
const LW = 0.8 * 300 / 72 * S;          // 0.8pt
const MS = 7 * S;                        // scatter dot diameter
const ML = 250 * S, MR = W - 3237 * S, MT = 30 * S, MB = H - 4311 * S;
const PW = W - ML - MR, PH = H - MT - MB;
const panelTops = [30, 907, 1784, 2661, 3538], panelH = 773;
const yRanges = [[0.8, 5.2], [1.85, 5.15], [-117.8, -14.2], [-8.97, 6.71], [7180, 35920]];
const yDticks = [0.5, 0.5, 20, 2, 5000];
const yFormats = ['.1f', '.1f', 'd', 'd', 'd'];
const px2fy = py => (H - MB - py) / PH;
const px2fx = px => (px - ML) / PW;
const LEG_PAD = '\u2002';   // extra gap between legend dot and label

function hrs(h) {
  const d = new Date(Date.UTC(2025, 9, 18) + Math.round(h * 3600000));
  return d.toISOString().slice(0, 19).replace('T', ' ');
}
const sfx = p => (p === 0 ? '' : String(p + 1));

const traces = [];
function addPanel(p, runs, pts) {
  const xa = 'x' + sfx(p), ya = 'y' + sfx(p);
  for (let d = 0; d < devices.length; d++) {
    if (runs) {
      const xs = [], ys = [];
      for (let i = 0; i < runs.length; i += 4) {
        if (runs[i + 3] !== d) continue;
        xs.push(hrs(runs[i]), hrs(runs[i + 1]), null);
        ys.push(runs[i + 2], runs[i + 2], null);
      }
      if (xs.length) traces.push({type: 'scatter', mode: 'lines+markers', x: xs, y: ys, xaxis: xa, yaxis: ya,
        line: {color: colors[d], width: MS}, marker: {color: colors[d], size: MS, line: {width: 0}},
        showlegend: false, hoverinfo: 'skip', connectgaps: false});
    }
    if (pts) {
      const xs = [], ys = [];
      for (let i = 0; i < pts.length; i += 3) {
        if (pts[i + 2] !== d) continue;
        xs.push(hrs(pts[i])); ys.push(pts[i + 1]);
      }
      if (xs.length) traces.push({type: 'scatter', mode: 'markers', x: xs, y: ys, xaxis: xa, yaxis: ya,
        marker: {color: colors[d], size: MS, line: {width: 0}}, showlegend: false, hoverinfo: 'skip'});
    }
  }
}
addPanel(0, hopLimitRuns, hopLimitPts);
addPanel(1, hopStartRuns, hopStartPts);
addPanel(2, null, rxRssiPts);
addPanel(3, null, rxSnrPts);
traces.push({type: 'scatter', mode: 'lines', x: rxTimeHours.map(hrs), y: rxTimeValues, xaxis: 'x5', yaxis: 'y5',
  line: {color: colors[8], width: 7.5 * S}, showlegend: false, hoverinfo: 'skip'});
// one legend per panel
for (let p = 0; p < 5; p++) {
  for (let d = 0; d < devices.length; d++) {
    traces.push({type: 'scatter', mode: 'markers', x: [null], y: [null], xaxis: 'x' + sfx(p), yaxis: 'y' + sfx(p),
      name: LEG_PAD + devices[d], legend: 'legend' + sfx(p), legendgroup: 'p' + p + 'd' + d,
      marker: {color: colors[d], size: 16.7 * S}, showlegend: true});
  }
}

const layout = {
  width: W, height: H, paper_bgcolor: '#ffffff', plot_bgcolor: 'rgba(0,0,0,0)',
  margin: {l: ML, r: MR, t: MT, b: MB, autoexpand: false},
  font: {family: FONT, size: FS, color: '#000000'},
  showlegend: true, shapes: [], annotations: []
};
for (let p = 0; p < 5; p++) {
  const s = sfx(p);
  const top = panelTops[p] * S, bot = (panelTops[p] + panelH) * S;
  layout['xaxis' + s] = {
    type: 'date', anchor: 'y' + s, domain: [0, 1], range: ['2025-10-18 13:23:12', '2025-10-19 23:04:24'],
    matches: p === 0 ? undefined : 'x', tickmode: 'linear', tick0: '2025-10-18 00:00', dtick: 3 * 3600000,
    tickformat: '%m-%d %H', showticklabels: p === 4, ticks: 'outside', ticklen: 3.5 * 300 / 72 * S, tickwidth: LW,
    tickcolor: '#000', showgrid: true, gridcolor: '#b0b0b0', gridwidth: LW, zeroline: false,
    showline: true, mirror: true, linecolor: '#000', linewidth: LW, ticklabelstandoff: 8,
    tickfont: {family: FONT, size: FS, color: '#000'},
    title: p === 4 ? {text: xTitle, font: {family: FONT, size: FS, color: '#000'}, standoff: 2} : undefined
  };
  layout['yaxis' + s] = {
    anchor: 'x' + s, domain: [px2fy(bot), px2fy(top)], range: yRanges[p], autorange: false,
    tickmode: 'linear', tick0: 0, dtick: yDticks[p], tickformat: yFormats[p],
    ticks: 'outside', ticklen: 3.5 * 300 / 72 * S, tickwidth: LW, tickcolor: '#000', ticklabelstandoff: 10,
    showgrid: true, gridcolor: '#b0b0b0', gridwidth: LW, zeroline: false,
    showline: true, mirror: true, linecolor: '#000', linewidth: LW,
    tickfont: {family: FONT, size: FS, color: '#000'},
    title: {text: panelFields[p], font: {family: FONT, size: FS, color: '#000'}, standoff: 3}
  };
  layout['legend' + s] = {
    x: px2fx(3287 * S), y: px2fy((panelTops[p] + 20.8) * S), xref: 'paper', yref: 'paper',
    xanchor: 'left', yanchor: 'top', bgcolor: '#ffffff', bordercolor: '#d6d6d6', borderwidth: 3.8,
    font: {family: FONT, size: FS, color: '#000'}, itemwidth: 92,
    tracegroupgap: 4.7, traceorder: 'grouped'
  };
  for (let n = 0; n < nightStarts.length; n++) {
    layout.shapes.push({type: 'rect', xref: 'x' + s, yref: 'y' + s + ' domain', x0: nightStarts[n], x1: nightEnds[n],
      y0: 0, y1: 1, fillcolor: '#dddddd', line: {width: 0}, layer: 'below'});
  }
  for (const mt of markerTimes) {
    layout.shapes.push({type: 'line', xref: 'x' + s, yref: 'y' + s + ' domain', x0: mt, x1: mt, y0: 0, y1: 1,
      line: {color: '#000', width: 1.5 * 300 / 72 * S, dash: '21px,9px'}, layer: 'above'});
  }
}
layout.annotations.push({text: '+' + rxTimeOffset.toExponential(4).replace('e+', 'e'), xref: 'paper', yref: 'paper',
  x: 0, y: px2fy(3529 * S), xanchor: 'left', yanchor: 'bottom', showarrow: false,
  font: {family: FONT, size: FS, color: '#000'}});

Plotly.newPlot('chart', traces, layout, {staticPlot: true, displayModeBar: false});
</script>
</body></html>
